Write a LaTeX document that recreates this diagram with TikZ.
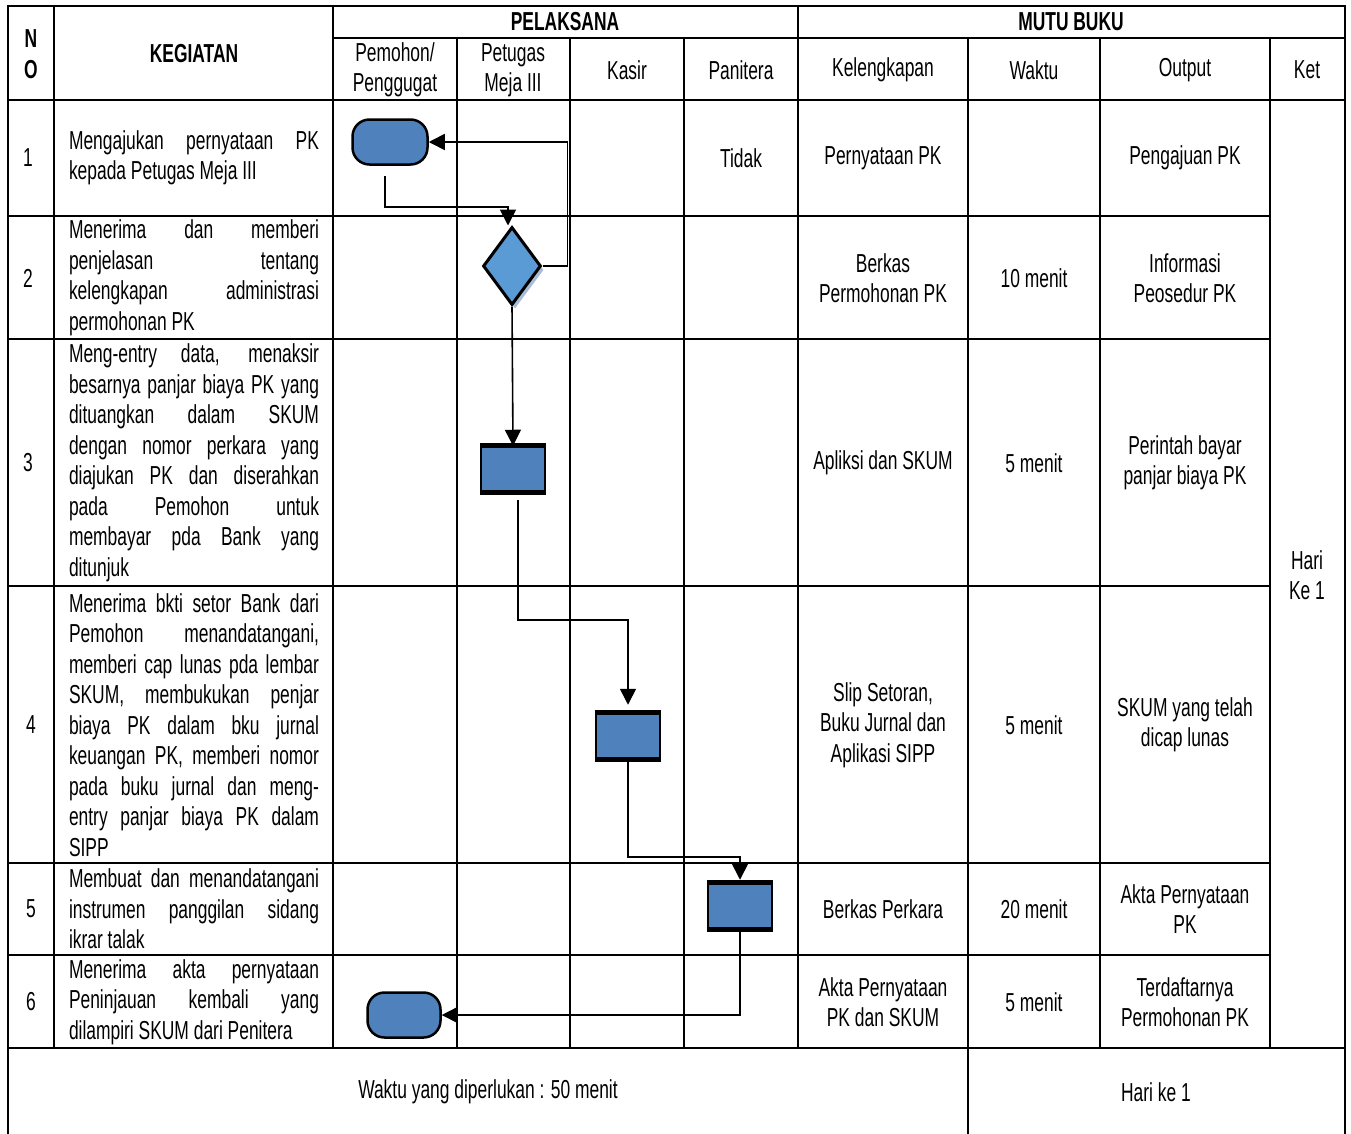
\documentclass[tikz,border=0pt]{standalone}
\usepackage{fontspec}
\setmainfont{Liberation Sans}[FakeStretch=0.67]
\usepackage{tikz}
\usetikzlibrary{arrows.meta,shapes.geometric,shadows,calc}
\definecolor{flowblue}{HTML}{4F81BD}
\definecolor{decblue}{HTML}{5B9BD5}
\definecolor{shade}{HTML}{A9BCD6}
\newcommand{\cellfont}{\fontsize{26}{30.5}\selectfont}
\hyphenpenalty=10000
\exhyphenpenalty=10000
\tolerance=9999

\begin{document}
\begin{tikzpicture}[x=1pt,y=-1pt,
  tbl/.style={line width=2.2pt},
  cell/.style={font=\cellfont,align=center,inner sep=0pt},
  head/.style={cell,font=\cellfont\bfseries},
  task/.style={cell,text width=250pt,align=justify},
  term/.style={draw,line width=2.5pt,fill=flowblue,rounded corners=17pt,
               minimum width=75pt,minimum height=45pt,inner sep=0pt},
  proc/.style={draw,line width=2.5pt,fill=flowblue,minimum width=64pt,
               minimum height=44pt,inner sep=0pt},
  dec/.style={diamond,draw,line width=3pt,fill=decblue,aspect=0.74,
              minimum width=58pt,minimum height=78pt,inner sep=0pt,
              drop shadow={shadow xshift=3pt,shadow yshift=-4pt,fill=shade,opacity=1}},
  arr/.style={-{Triangle[length=16pt,width=16pt]},line width=1.6pt}
]
\useasboundingbox (0,0) rectangle (1351,1133);

% table rules
\draw[tbl] (8,1140) -- (8,6) -- (1345,6) -- (1345,1140);
\draw[tbl] (333,38) -- (1345,38);
\draw[tbl] (8,100) -- (1345,100);
\draw[tbl] (8,216) -- (1270,216);
\draw[tbl] (8,339) -- (1270,339);
\draw[tbl] (8,586) -- (1270,586);
\draw[tbl] (8,863) -- (1270,863);
\draw[tbl] (8,955) -- (1270,955);
\draw[tbl] (8,1048) -- (1345,1048);
\draw[tbl] (54,6) -- (54,1048);
\draw[tbl] (333,6) -- (333,1048);
\draw[tbl] (798,6) -- (798,1048);
\draw[tbl] (457,38) -- (457,1048);
\draw[tbl] (570,38) -- (570,1048);
\draw[tbl] (684,38) -- (684,1048);
\draw[tbl] (968,38) -- (968,1140);
\draw[tbl] (1100,38) -- (1100,1048);
\draw[tbl] (1270,38) -- (1270,1048);

% header
\node[head] (hno) at (31,54) {N\\O};
\node[head] (hkeg) at (194,54) {KEGIATAN};
\node[head] (hpel) at (565,22) {PELAKSANA};
\node[head] (hmutu) at (1071,22) {MUTU BUKU};
\node[cell] (hpem) at (395,70) {Pemohon/\\Penggugat};
\node[cell] (hpet) at (513,70) {Petugas\\Meja III};
\node[cell] (hkas) at (627,70) {Kasir};
\node[cell] (hpan) at (741,70) {Panitera};
\node[cell] (hkel) at (883,70) {Kelengkapan};
\node[cell] (hwak) at (1034,70) {Waktu};
\node[cell] (hout) at (1185,70) {Output};
\node[cell] (hket) at (1307,70) {Ket};

% nomor
\node[cell] (no1) at (28,158) {1};
\node[cell] (no2) at (28,278) {2};
\node[cell] (no3) at (28,463) {3};
\node[cell] (no4) at (31,725) {4};
\node[cell] (no5) at (31,909) {5};
\node[cell] (no6) at (31,1002) {6};

% kegiatan
\node[task] (k1) at (194,158) {Mengajukan pernyataan PK\linebreak kepada Petugas Meja III};
\node[task] (k2) at (194,278) {Menerima dan memberi\linebreak penjelasan tentang\linebreak
  kelengkapan administrasi\linebreak permohonan PK};
\node[task] (k3) at (194,463) {Meng-entry data, menaksir\linebreak besarnya panjar biaya PK yang\linebreak
  dituangkan dalam SKUM\linebreak dengan nomor perkara yang\linebreak diajukan PK dan diserahkan\linebreak
  pada Pemohon untuk\linebreak membayar pda Bank yang\linebreak ditunjuk};
\node[task] (k4) at (194,725) {Menerima bkti setor Bank dari\linebreak Pemohon menandatangani,\linebreak
  memberi cap lunas pda lembar\linebreak SKUM, membukukan penjar\linebreak biaya PK dalam bku jurnal\linebreak
  keuangan PK, memberi nomor\linebreak pada buku jurnal dan meng-\linebreak entry panjar biaya PK dalam\linebreak SIPP};
\node[task] (k5) at (194,909) {Membuat dan menandatangani\linebreak instrumen panggilan sidang\linebreak ikrar talak};
\node[task] (k6) at (194,1002) {Menerima akta pernyataan\linebreak Peninjauan kembali yang\linebreak
  dilampiri SKUM dari Penitera};

% alur
\node[term] (t1) at (390,142) {};
\node[dec] (d) at (512,266) {};
\node[proc] (p3) at (513,469) {};
\node[proc] (p4) at (628,736) {};
\node[proc] (p5) at (740,906) {};
\node[term,minimum width=73pt] (t6) at (404,1015) {};
\foreach \n in {p3,p4,p5}
  \draw[line width=5pt] (\n.north west) -- (\n.north east)
                        (\n.south west) -- (\n.south east);

\draw[arr] ([xshift=-5pt,yshift=-10pt]t1.south) -- ++(0,31) -| ([xshift=-4pt]d.north);
\draw[arr] (d.east) -- ++(25,0) |- (t1.east);
\draw[arr] (d.south) -- (p3.north);
\draw[arr] ([xshift=5pt,yshift=-8pt]p3.south) -- ++(0,120) -| ([yshift=8pt]p4.north);
\draw[arr] (p4.south) -- ++(0,98) -| ([yshift=3pt]p5.north);
\draw[arr] (p5.south) |- (t6.east);

\node[cell] (tidak) at (741,158) {Tidak};

% mutu buku
\node[cell] (kl1) at (883,158) {Pernyataan PK};
\node[cell] (kl2) at (883,278) {Berkas\\Permohonan PK};
\node[cell] (kl3) at (883,463) {Apliksi dan SKUM};
\node[cell] (kl4) at (883,725) {Slip Setoran,\\Buku Jurnal dan\\Aplikasi SIPP};
\node[cell] (kl5) at (883,909) {Berkas Perkara};
\node[cell] (kl6) at (883,1002) {Akta Pernyataan\\PK dan SKUM};

\node[cell] (w2) at (1034,278) {10 menit};
\node[cell] (w3) at (1034,463) {5 menit};
\node[cell] (w4) at (1034,725) {5 menit};
\node[cell] (w5) at (1034,909) {20 menit};
\node[cell] (w6) at (1034,1002) {5 menit};

\node[cell] (o1) at (1185,158) {Pengajuan PK};
\node[cell] (o2) at (1185,278) {Informasi\\Peosedur PK};
\node[cell] (o3) at (1185,463) {Perintah bayar\\panjar biaya PK};
\node[cell] (o4) at (1185,725) {SKUM yang telah\\dicap lunas};
\node[cell] (o5) at (1185,909) {Akta Pernyataan\\PK};
\node[cell] (o6) at (1185,1002) {Terdaftarnya\\Permohonan PK};

\node[cell] (ket) at (1307,575) {Hari\\Ke 1};

\node[cell] (total) at (488,1092) {Waktu yang diperlukan : 50 menit};
\node[cell] (hari) at (1156,1092) {Hari ke 1};
\end{tikzpicture}
\end{document}
